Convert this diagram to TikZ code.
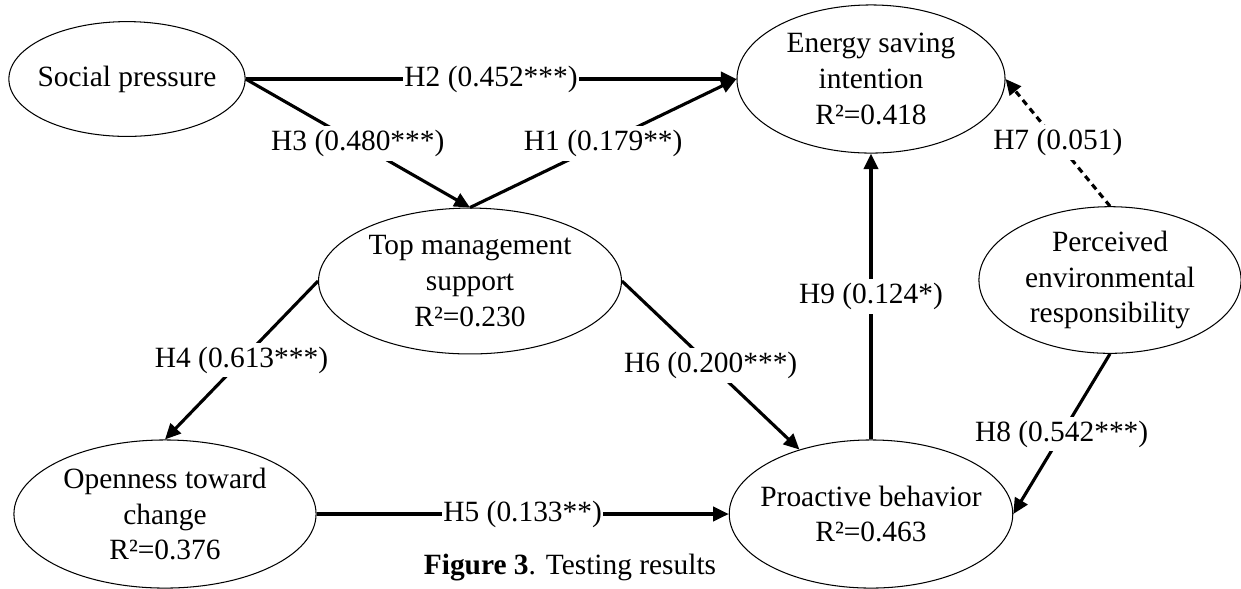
\documentclass[tikz,border=0pt]{standalone}
\usepackage{fontspec}
\setmainfont{Liberation Serif}
\usetikzlibrary{shapes.geometric}
\usetikzlibrary{arrows.meta}

\begin{document}
\begin{tikzpicture}[x=0.0135cm,y=-0.0135cm,
			latent/.style={ellipse,draw,line width=0.4pt,inner sep=-4pt,align=center,font=\fontsize{11.3}{13.8}\selectfont},
			effect/.style={line width=1.2pt,-{Triangle[length=6pt,width=5.5pt]}},
			weak/.style={dash pattern=on 2.4pt off 1.8pt},
			coef/.style={fill=white,inner xsep=0.5pt,inner ysep=1.5pt,font=\fontsize{11.3}{13.8}\selectfont}]
			\useasboundingbox (0,0) rectangle (1241,588);
			\node[latent,minimum width=3.19cm,minimum height=1.55cm] (SP) at (127,79) {Social pressure};
			\node[latent,minimum width=3.62cm,minimum height=2cm] (ESI) at (871,79) {Energy saving\\intention\\R²=0.418};
			\node[latent,minimum width=4.09cm,minimum height=1.97cm] (TMS) at (470,281) {Top management\\support\\R²=0.230};
			\node[latent,minimum width=3.54cm,minimum height=1.98cm] (PER) at (1110,280) {Perceived\\environmental\\responsibility};
			\node[latent,minimum width=4.08cm,minimum height=2cm] (OTC) at (165,514) {Openness toward\\change\\R²=0.376};
			\node[latent,minimum width=3.62cm,minimum height=2cm] (PB) at (871,514) {Proactive behavior\\R²=0.463};
			\node[font=\fontsize{11.3}{13.8}\selectfont] (CAP) at (570,568) {\textbf{Figure 3}. Testing results};
			\draw[effect] (SP.east) -- node[coef] {H2 (0.452***)} (ESI.west);
			\draw[effect] (SP.east) -- node[coef] {H3 (0.480***)} (TMS.north);
			\draw[effect] (TMS.north) -- node[coef] {H1 (0.179**)} (ESI.west);
			\draw[effect] (TMS.west) -- node[coef] {H4 (0.613***)} (OTC.north);
			\draw[effect] (OTC.east) -- node[coef] {H5 (0.133**)} (PB.west);
			\draw[effect] (TMS.east) -- node[coef] {H6 (0.200***)} (PB.138);
			\draw[effect,weak] (PER.north) -- node[coef] {H7 (0.051)} (ESI.east);
			\draw[effect] (PER.south) -- node[coef] {H8 (0.542***)} (PB.east);
			\draw[effect] (PB.north) -- node[coef] {H9 (0.124*)} (ESI.south);
		\end{tikzpicture}
\end{document}
